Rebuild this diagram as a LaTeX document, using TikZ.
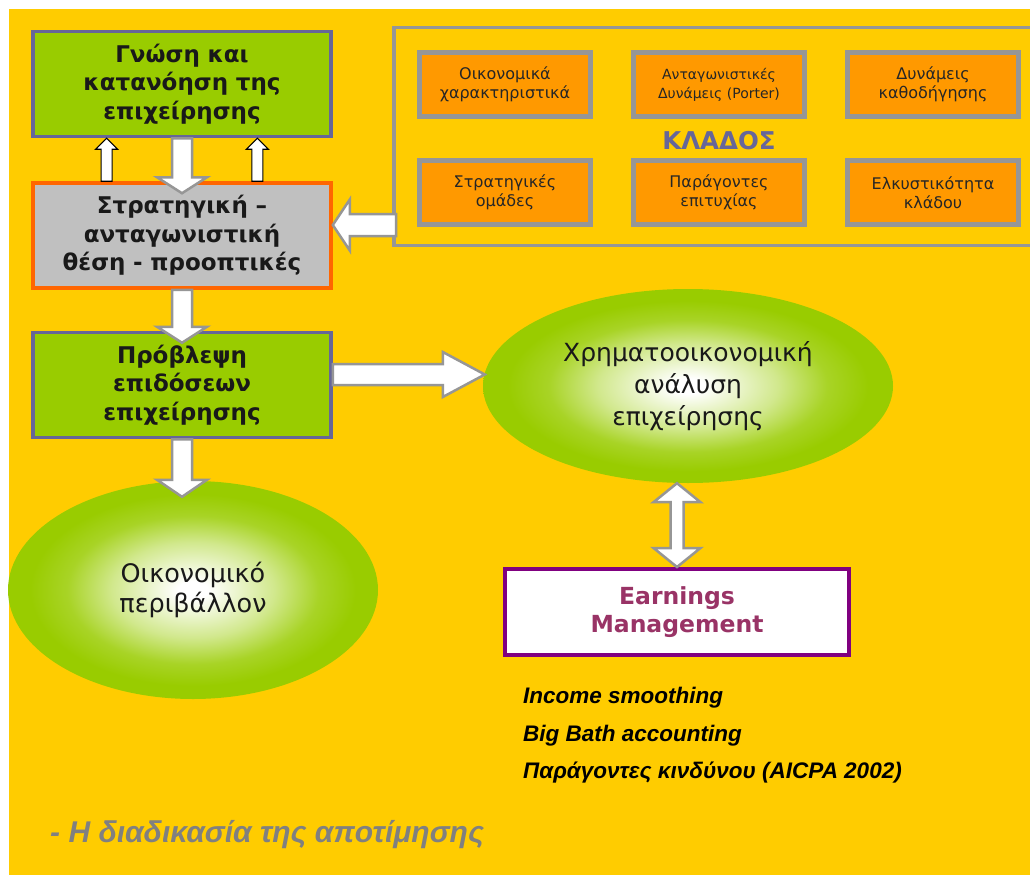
\documentclass[tikz,border=0pt]{standalone}
\usepackage{fontspec}
\setmainfont{DejaVu Sans}
\newfontfamily\notefont{Liberation Sans}
\usepackage{xcolor}
\usepackage{tikz}
\usetikzlibrary{positioning,calc,shapes.geometric}

\definecolor{bgyellow}{HTML}{FFCC00}
\definecolor{leafgreen}{HTML}{99CC00}
\definecolor{slateframe}{HTML}{666699}
\definecolor{silverfill}{HTML}{C0C0C0}
\definecolor{flame}{HTML}{FF6600}
\definecolor{amber}{HTML}{FF9900}
\definecolor{ashframe}{HTML}{969696}
\definecolor{plumframe}{HTML}{800080}
\definecolor{plumtext}{HTML}{993366}
\definecolor{captiongray}{HTML}{808080}

\pgfdeclareradialshading{greenglow}{\pgfpoint{0bp}{0bp}}{%
  color(0bp)=(white); color(2bp)=(white); color(11bp)=(leafgreen!45!white);
  color(17bp)=(leafgreen!85!white); color(22bp)=(leafgreen); color(50bp)=(leafgreen)}

% block arrow: [style]{from}{to}{shaft half width}{head half width}{head length}
\newcommand{\blockarrow}[6][blk]{%
  \draw[#1] let \p1=(#2), \p2=(#3), \n1={atan2(\y2-\y1,\x2-\x1)} in
    ($(\p1)+(\n1+90:#4)$) -- ($(\p2)+(\n1+180:#6)+(\n1+90:#4)$)
    -- ($(\p2)+(\n1+180:#6)+(\n1+90:#5)$) -- (\p2)
    -- ($(\p2)+(\n1+180:#6)+(\n1-90:#5)$) -- ($(\p2)+(\n1+180:#6)+(\n1-90:#4)$)
    -- ($(\p1)+(\n1-90:#4)$) -- cycle;}
\newcommand{\doubleblockarrow}[6][blk]{%
  \draw[#1] let \p1=(#2), \p2=(#3), \n1={atan2(\y2-\y1,\x2-\x1)} in
    (\p1) -- ($(\p1)+(\n1:#6)+(\n1+90:#5)$) -- ($(\p1)+(\n1:#6)+(\n1+90:#4)$)
    -- ($(\p2)+(\n1+180:#6)+(\n1+90:#4)$) -- ($(\p2)+(\n1+180:#6)+(\n1+90:#5)$) -- (\p2)
    -- ($(\p2)+(\n1+180:#6)+(\n1-90:#5)$) -- ($(\p2)+(\n1+180:#6)+(\n1-90:#4)$)
    -- ($(\p1)+(\n1:#6)+(\n1-90:#4)$) -- ($(\p1)+(\n1:#6)+(\n1-90:#5)$) -- cycle;}

\begin{document}
\begin{tikzpicture}[
    x=1pt, y=-1pt,
    node distance=39pt and 38pt,
    mainbox/.style={rectangle, draw=slateframe, line width=3.5pt, fill=leafgreen, minimum width=298pt, minimum height=105pt, text width=270pt, align=center, text=black!90, font=\fontsize{23}{28.5}\selectfont\bfseries},
    factor/.style={rectangle, draw=ashframe, line width=5pt, fill=amber, minimum width=171pt, minimum height=64pt, text width=150pt, align=center, text=black!85, font=\fontsize{16}{19.5}\selectfont},
    cluster/.style={rectangle, draw=ashframe, line width=3.5pt, minimum width=646pt, minimum height=218pt},
    glow/.style={ellipse, shade, shading=greenglow, minimum width=410pt, minimum height=194pt, align=center, text=black!90, font=\fontsize{25}{32}\selectfont},
    earnbox/.style={rectangle, draw=plumframe, line width=4pt, fill=white, minimum width=344pt, minimum height=86pt, align=center, text=plumtext, font=\fontsize{23.5}{28}\selectfont\bfseries},
    note/.style={anchor=west, inner sep=0pt, font=\notefont\fontsize{22.5}{26}\selectfont\bfseries\itshape},
    blk/.style={draw=ashframe, line width=2.5pt, fill=white},
    thinblk/.style={draw=black, line width=1.2pt, fill=white}
]
\useasboundingbox (0,0) rectangle (1030,875);
\fill[white] (0,0) rectangle (1030,875);
\fill[bgyellow] (9,9) rectangle (1030,875);

% left column
\node[mainbox] (know) at (182,84) {Γνώση και\\κατανόηση της\\επιχείρησης};
\node[mainbox, below=43pt of know, fill=silverfill, draw=flame] (strat) {Στρατηγική –\\ανταγωνιστική\\θέση - προοπτικές};
\node[mainbox, below=41pt of strat] (forecast) {Πρόβλεψη\\επιδόσεων\\επιχείρησης};

% industry block
\node[cluster] (branch) at (716.75,136.5) {};
\node[factor] (econ) at (505,84.5) {Οικονομικά\\χαρακτηριστικά};
\node[factor, right=of econ, font=\fontsize{14}{19}\selectfont] (porter) {Ανταγωνιστικές\\Δυνάμεις (Porter)};
\node[factor, right=of porter] (drivers) {Δυνάμεις\\καθοδήγησης};
\node[factor, below=of econ] (groups) {Στρατηγικές\\ομάδες};
\node[factor, below=of porter] (success) {Παράγοντες\\επιτυχίας};
\node[factor, below=of drivers] (appeal) {Ελκυστικότητα\\κλάδου};
\node[text=slateframe, font=\fontsize{24.5}{28}\selectfont\bfseries] (klados) at ($(porter.south)!0.5!(success.north)+(0,2)$) {ΚΛΑΔΟΣ};

% ellipses and earnings
\node[glow] (fin) at (688,386) {Χρηματοοικονομική\\ανάλυση\\επιχείρησης};
\node[glow, minimum width=370pt, minimum height=218pt, font=\fontsize{25.5}{30}\selectfont] (env) at (193,590) {Οικονομικό\\περιβάλλον};
\node[earnbox] (earn) at (677,612) {Earnings\\Management};

% arrows
\coordinate (upL) at ($(strat.north west)!0.25!(strat.north east)$);
\coordinate (upR) at ($(strat.north west)!0.75!(strat.north east)$);
\blockarrow[thinblk]{upL}{upL |- know.south}{5.5pt}{11pt}{11pt}
\blockarrow[thinblk]{upR}{upR |- know.south}{5.5pt}{11pt}{11pt}
\blockarrow{know.south}{[yshift=-12pt]strat.north}{10pt}{25pt}{16pt}
\blockarrow{strat.south}{[yshift=-12pt]forecast.north}{10pt}{25pt}{16pt}
\blockarrow{forecast.south}{[yshift=-16pt]forecast.south |- env.north}{10pt}{25pt}{17pt}
\coordinate (stratin) at ([yshift=10.5pt]strat.east);
\blockarrow{[xshift=4pt]branch.west |- stratin}{stratin}{11pt}{25.5pt}{17pt}
\coordinate (foreout) at ([yshift=10.5pt]forecast.east);
\coordinate (finin) at (fin.west |- foreout);
\blockarrow{foreout}{[xshift=2pt]finin}{10.5pt}{22.5pt}{42pt}
\doubleblockarrow{earn.north |- fin.south}{earn.north}{6.5pt}{23.5pt}{19pt}

% notes
\node[note] (smooth) at (523,698) {Income smoothing};
\node[note] (bath) at (523,736) {Big Bath accounting};
\node[note] (risk) at (523,773) {Παράγοντες κινδύνου (AICPA 2002)};
\node[note, text=captiongray, font=\notefont\fontsize{30}{34}\selectfont\bfseries\itshape] (process) at (50,835) {- Η διαδικασία της αποτίμησης};
\end{tikzpicture}
\end{document}
